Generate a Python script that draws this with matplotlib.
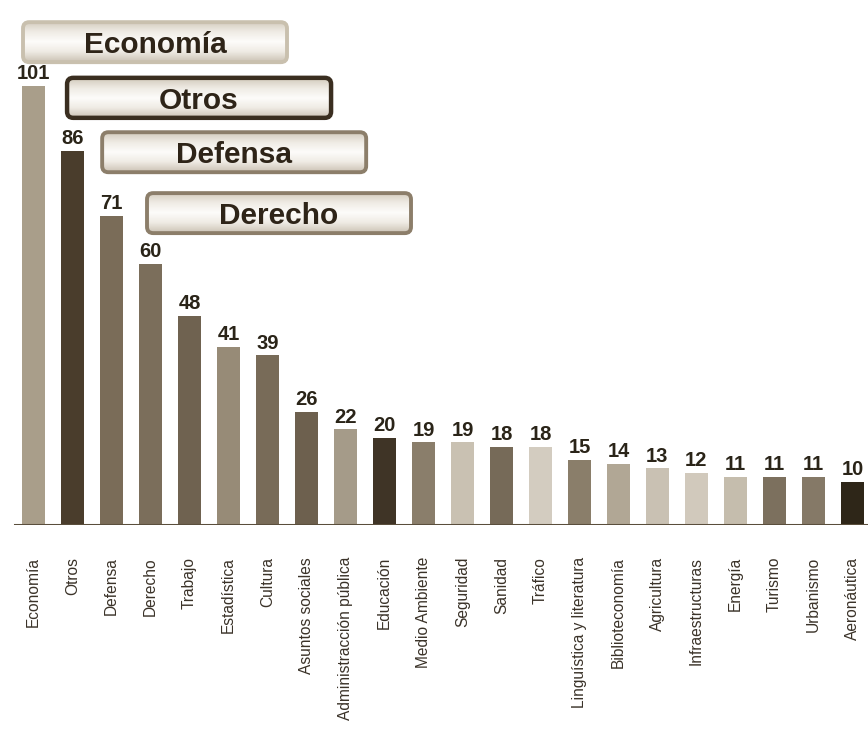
import numpy as np
import matplotlib
matplotlib.use("Agg")
import matplotlib.pyplot as plt
from matplotlib.patches import FancyBboxPatch
from matplotlib.colors import LinearSegmentedColormap
from matplotlib import font_manager

categories = ["Economía", "Otros", "Defensa", "Derecho", "Trabajo", "Estadística",
              "Cultura", "Asuntos sociales", "Administracción pública", "Educación",
              "Medio Ambiente", "Seguridad", "Sanidad", "Tráfico",
              "Linguística y literatura", "Biblioteconomía", "Agricultura",
              "Infraestructuras", "Energía", "Turismo", "Urbanismo", "Aeronáutica"]
values = [101, 86, 71, 60, 48, 41, 39, 26, 22, 20, 19, 19, 18, 18, 15, 14, 13, 12, 11, 11, 11, 10]
bar_colors = ["#a99e8a", "#4a3d2c", "#7a6c58", "#7b6e5b", "#6f6250", "#978b77",
              "#786b58", "#6d604e", "#a59b89", "#3f3426", "#8a7e6b", "#c9c1b2",
              "#766a58", "#d3ccc0", "#8a7e6a", "#b1a795", "#c9c1b3", "#d1c9bc",
              "#c5bdad", "#7c705e", "#857967", "#2e2618"]

box_labels = ["Economía", "Otros", "Defensa", "Derecho"]
box_edge = ["#c9c0ae", "#3a2e20", "#8c7e6a", "#8c7e6a"]
box_dx = [-0.27, -0.14, -0.24, -0.09]   # left edge offset from bar centre (layout)
box_dy = [5.4, 7.6, 10.1, 7.1]          # gap between bar top and box bottom (layout)

avail = {f.name for f in font_manager.fontManager.ttflist}
narrow = "Liberation Sans Narrow" in avail
lab_family = ["Liberation Sans Narrow"] if narrow else ["Liberation Sans", "DejaVu Sans"]
lab_size = 13.5 if narrow else 11.2

W, H = 868, 729
fig = plt.figure(figsize=(W / 100, H / 100), dpi=100)
fig.patch.set_facecolor("white")
base_px = 525
ax = fig.add_axes([0, (H - base_px) / H, 1, base_px / H])
ax.set_facecolor("white")
x = np.arange(len(categories))
xl = (-0.86, 21.4)
yl = (0, base_px / 4.35)
ax.bar(x, values, width=0.57, color=bar_colors, zorder=2)
for s in ax.spines.values():
    s.set_visible(False)
ax.axhline(0, color="#5a4e3c", lw=2.2, zorder=3, xmin=15 / W)
ax.set_yticks([])
ax.set_xticks([])

for xi, v in zip(x, values):
    ax.annotate(str(v), (xi, v), xytext=(0, 2), textcoords="offset points",
                ha="center", va="bottom", fontsize=14.5, fontweight="bold",
                color="#2a2418", family=["Liberation Sans", "DejaVu Sans"], zorder=4)

# category labels below baseline
for xi, c in zip(x, categories):
    ax.annotate(c, (xi, 0), xytext=(0, -23), textcoords="offset points",
                rotation=90, ha="center", va="top", fontsize=lab_size,
                color="#3a3228", family=lab_family, annotation_clip=False)

ax.set_xlim(*xl)
ax.set_ylim(*yl)

# px per data unit
px_x = W / (xl[1] - xl[0])
px_y = base_px / (yl[1] - yl[0])
box_w = 264 / px_x
box_h = 40 / px_y
aspect = px_x / px_y
grad = LinearSegmentedColormap.from_list("g", ["#d3cbbd", "#efebe4", "#fdfcfa", "#efebe4", "#ccc3b5"])
for i, (lab, ec) in enumerate(zip(box_labels, box_edge)):
    x0 = x[i] + box_dx[i]
    y0 = values[i] + box_dy[i]
    p = FancyBboxPatch((x0, y0), box_w, box_h,
                       boxstyle="round,pad=0,rounding_size=0.16",
                       mutation_aspect=aspect, facecolor="none",
                       edgecolor=ec, lw=3.2 if i == 1 else 2.8, zorder=6)
    ax.add_patch(p)
    img = ax.imshow(np.linspace(0, 1, 64).reshape(-1, 1), cmap=grad,
                    extent=(x0, x0 + box_w, y0, y0 + box_h), aspect="auto",
                    origin="upper", zorder=5)
    img.set_clip_path(p)
    ax.text(x0 + box_w / 2, y0 + box_h / 2, lab, ha="center", va="center_baseline",
            fontsize=21.5, fontweight="bold", color="#2e2418",
            family=["Liberation Sans", "DejaVu Sans"], zorder=7)

ax.set_xlim(*xl)
ax.set_ylim(*yl)
fig.savefig("out.png", dpi=100, facecolor="white")
